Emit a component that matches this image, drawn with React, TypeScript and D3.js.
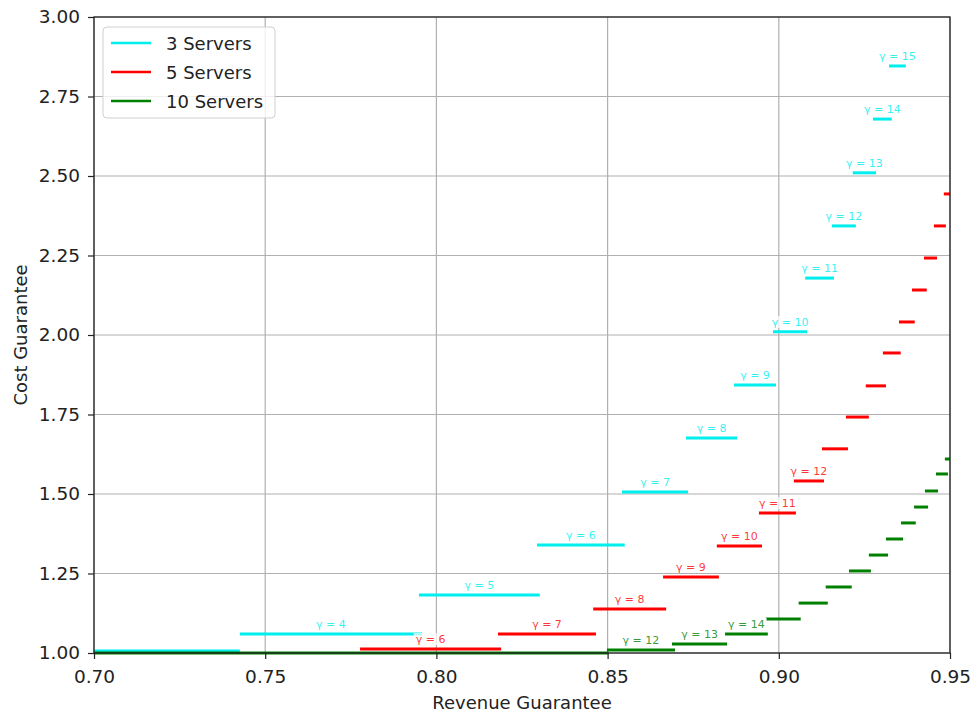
import React, { useEffect, useRef } from "react";
import * as d3 from "d3";

// 3 servers (cyan)
const gamma3 = [3, 4, 5, 6, 7, 8, 9, 10, 11, 12, 13, 14, 15];
const revLo3 = [0.68, 0.7426, 0.7949, 0.8294, 0.8542, 0.8729, 0.8869, 0.8983, 0.9077, 0.9155, 0.9216, 0.9275, 0.9322];
const revHi3 = [0.7426, 0.7958, 0.8302, 0.855, 0.8735, 0.8878, 0.8992, 0.9083, 0.9161, 0.9225, 0.9284, 0.933, 0.9371];
const cost3 = [1.006, 1.06, 1.182, 1.34, 1.506, 1.676, 1.843, 2.01, 2.179, 2.343, 2.51, 2.679, 2.846];
const labels3 = [4, 5, 6, 7, 8, 9, 10, 11, 12, 13, 14, 15];

// 5 servers (red)
const gamma5 = [6, 7, 8, 9, 10, 11, 12, 13, 14, 15, 16, 17, 18, 19, 20, 21];
const revLo5 = [0.7777, 0.818, 0.8458, 0.8662, 0.8819, 0.8942, 0.9044, 0.9126, 0.9196, 0.9254, 0.9304, 0.9351, 0.9389, 0.9424, 0.9453, 0.9482];
const revHi5 = [0.8189, 0.8466, 0.8671, 0.8825, 0.8951, 0.905, 0.9132, 0.9202, 0.9263, 0.9313, 0.9356, 0.9397, 0.9432, 0.9462, 0.9488, 0.9512];
const cost5 = [1.0126, 1.06, 1.138, 1.239, 1.3365, 1.44, 1.541, 1.642, 1.742, 1.84, 1.9435, 2.041, 2.1415, 2.242, 2.343, 2.4436];
const labels5 = [6, 7, 8, 9, 10, 11, 12];

// 10 servers (green)
const gamma10 = [11, 12, 13, 14, 15, 16, 17, 18, 19, 20, 21, 22, 23, 24, 25];
const revLo10 = [0.68, 0.8498, 0.8688, 0.8843, 0.8962, 0.9058, 0.9137, 0.9205, 0.9263, 0.9313, 0.9357, 0.9395, 0.9427, 0.9459, 0.9485];
const revHi10 = [0.8503, 0.8697, 0.8849, 0.8968, 0.9064, 0.9143, 0.9213, 0.9269, 0.9319, 0.9363, 0.94, 0.9436, 0.9465, 0.9494, 0.952];
const cost10 = [1.0, 1.0094, 1.028, 1.0597, 1.107, 1.157, 1.2076, 1.258, 1.308, 1.3585, 1.409, 1.459, 1.5095, 1.563, 1.61];
const labels10 = [12, 13, 14];

const xTicks = [0.7, 0.75, 0.8, 0.85, 0.9, 0.95];
const yTicks = [1.0, 1.25, 1.5, 1.75, 2.0, 2.25, 2.5, 2.75, 3.0];

const series = [
  { name: "3 Servers", color: "#00eeee", gamma: gamma3, lo: revLo3, hi: revHi3, cost: cost3, labels: labels3 },
  { name: "5 Servers", color: "#ff0000", gamma: gamma5, lo: revLo5, hi: revHi5, cost: cost5, labels: labels5 },
  { name: "10 Servers", color: "#008000", gamma: gamma10, lo: revLo10, hi: revHi10, cost: cost10, labels: labels10 },
];

const App = () => {
  const ref = useRef<SVGSVGElement>(null);

  useEffect(() => {
    document.body.style.margin = "0";
    const width = 971;
    const height = 715;
    const m = { left: 94, right: 950, top: 17, bottom: 653 };
    const font = "'DejaVu Sans', sans-serif";

    const svg = d3.select(ref.current);
    svg.selectAll("*").remove();

    const x = d3.scaleLinear().domain([0.7, 0.95]).range([m.left, m.right]);
    const y = d3.scaleLinear().domain([1.0, 3.0]).range([m.bottom, m.top]);

    svg.append("rect").attr("width", width).attr("height", height).attr("fill", "#fff");

    svg.append("defs").append("clipPath").attr("id", "plotclip")
      .append("rect")
      .attr("x", m.left).attr("y", m.top - 2)
      .attr("width", m.right - m.left).attr("height", m.bottom - m.top + 4);

    // grid
    const grid = svg.append("g").attr("stroke", "#b0b0b0").attr("stroke-width", 1.2);
    grid.selectAll("line.vx").data(xTicks).join("line")
      .attr("x1", d => x(d)).attr("x2", d => x(d))
      .attr("y1", m.top).attr("y2", m.bottom);
    grid.selectAll("line.hy").data(yTicks).join("line")
      .attr("y1", d => y(d)).attr("y2", d => y(d))
      .attr("x1", m.left).attr("x2", m.right);

    // segments
    const plot = svg.append("g").attr("clip-path", "url(#plotclip)");
    series.forEach(s => {
      plot.append("g").selectAll("line").data(s.gamma).join("line")
        .attr("x1", (_, i) => x(s.lo[i]))
        .attr("x2", (_, i) => x(s.hi[i]))
        .attr("y1", (_, i) => y(s.cost[i]))
        .attr("y2", (_, i) => y(s.cost[i]))
        .attr("stroke", s.color)
        .attr("stroke-width", 3);
    });

    // labels
    series.forEach(s => {
      s.labels.forEach(g => {
        const i = s.gamma.indexOf(g);
        const cx = x((s.lo[i] + s.hi[i]) / 2);
        const cy = y(s.cost[i]) - 9;
        const t = plot.append("text")
          .attr("x", cx).attr("y", cy)
          .attr("text-anchor", "middle")
          .attr("dominant-baseline", "middle")
          .attr("font-family", font)
          .attr("font-size", 11)
          .attr("fill", s.color)
          .attr("fill-opacity", 0.8)
          .text(`γ = ${g}`);
        const bb = (t.node() as SVGTextElement).getBBox();
        plot.insert("rect", () => t.node())
          .attr("x", bb.x - 2).attr("y", bb.y)
          .attr("width", bb.width + 4).attr("height", bb.height - 1)
          .attr("fill", "#fff").attr("fill-opacity", 0.7);
      });
    });

    // axes
    const xAxis = svg.append("g").attr("transform", `translate(0,${m.bottom})`)
      .call(d3.axisBottom(x).tickValues(xTicks).tickFormat(d3.format(".2f")).tickSize(6).tickPadding(11));
    const yAxis = svg.append("g").attr("transform", `translate(${m.left},0)`)
      .call(d3.axisLeft(y).tickValues(yTicks).tickFormat(d3.format(".2f")).tickSize(6).tickPadding(8));
    [xAxis, yAxis].forEach(a => {
      a.select(".domain").remove();
      a.selectAll("line").attr("stroke", "#222").attr("stroke-width", 1.2);
      a.selectAll("text").attr("font-family", font).attr("font-size", 18.5).attr("fill", "#222");
    });

    svg.append("rect")
      .attr("x", m.left).attr("y", m.top)
      .attr("width", m.right - m.left).attr("height", m.bottom - m.top)
      .attr("fill", "none").attr("stroke", "#222").attr("stroke-width", 1.3);

    svg.append("text")
      .attr("x", (m.left + m.right) / 2).attr("y", 709)
      .attr("text-anchor", "middle")
      .attr("font-family", font).attr("font-size", 18).attr("fill", "#222")
      .text("Revenue Guarantee");
    svg.append("text")
      .attr("transform", `translate(27,${(m.top + m.bottom) / 2}) rotate(-90)`)
      .attr("text-anchor", "middle")
      .attr("font-family", font).attr("font-size", 18).attr("fill", "#222")
      .text("Cost Guarantee");

    // legend
    const lg = svg.append("g").attr("transform", "translate(103,27)");
    lg.append("rect")
      .attr("width", 172).attr("height", 91).attr("rx", 4)
      .attr("fill", "#fff").attr("fill-opacity", 0.8)
      .attr("stroke", "#d0d0d0");
    series.forEach((s, i) => {
      const ly = 16 + i * 29;
      lg.append("line")
        .attr("x1", 8).attr("x2", 48).attr("y1", ly).attr("y2", ly)
        .attr("stroke", s.color).attr("stroke-width", 2.5);
      lg.append("text")
        .attr("x", 63).attr("y", ly)
        .attr("dominant-baseline", "central")
        .attr("font-family", font).attr("font-size", 18).attr("fill", "#222")
        .text(s.name);
    });
  }, []);

  return <svg ref={ref} width={971} height={715} style={{ display: "block" }} />;
};

export default App;
